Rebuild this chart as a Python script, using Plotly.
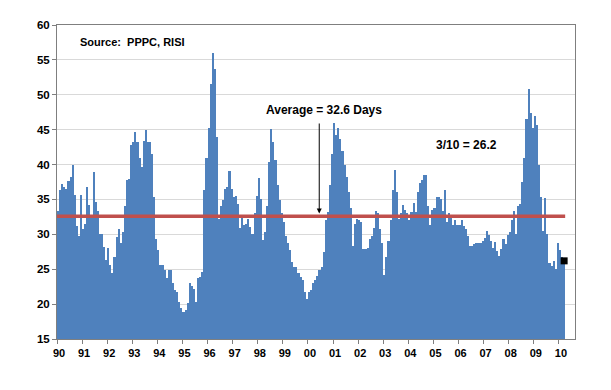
import plotly.graph_objects as go

# ---- data (monthly inventory days, Jan 1990 - Mar 2010) ----
tick_labels = ["90", "91", "92", "93", "94", "95", "96", "97", "98", "99", "00",
               "01", "02", "03", "04", "05", "06", "07", "08", "09", "10"]

v1990 = [33.3, 36.3, 37.2, 36.8, 36.5, 37.6, 38.2, 40.0, 35.6, 31.2, 29.8, 35.6]
v1991 = [30.8, 31.5, 36.8, 34.2, 32.5, 38.9, 34.6, 33.4, 30.1, 30.0, 28.2, 26.3]
v1992 = [28.1, 25.6, 24.5, 26.8, 29.6, 30.8, 28.7, 30.3, 34.0, 37.8, 38.0, 42.8]
v1993 = [43.3, 44.6, 43.2, 41.0, 39.6, 43.4, 45.0, 43.2, 43.2, 41.5, 35.3, 29.4]
v1994 = [27.7, 25.6, 25.6, 24.9, 23.7, 24.9, 24.9, 23.0, 22.0, 21.8, 20.3, 19.5]
v1995 = [18.9, 19.1, 20.2, 23.0, 22.6, 22.2, 20.3, 23.7, 23.9, 24.6, 36.4, 41.0]
v1996 = [45.3, 51.5, 56.0, 53.7, 44.0, 32.2, 34.0, 34.9, 36.5, 36.8, 39.1, 36.5]
v1997 = [35.3, 35.5, 34.4, 30.9, 32.8, 31.3, 31.5, 32.2, 31.0, 30.1, 33.0, 35.5]
v1998 = [38.1, 35.1, 29.2, 30.3, 34.1, 40.3, 45.1, 43.2, 40.6, 37.0, 34.9, 33.0]
v1999 = [31.8, 29.7, 28.7, 27.8, 26.0, 25.3, 25.3, 24.4, 23.9, 23.4, 21.8, 20.8]
v2000 = [21.8, 22.0, 23.0, 23.4, 24.1, 24.9, 25.3, 27.5, 32.0, 33.2, 37.0, 41.5]
v2001 = [45.9, 44.2, 45.3, 43.6, 42.0, 39.9, 38.2, 36.0, 33.8, 28.4, 31.5, 32.2]
v2002 = [32.1, 31.7, 27.9, 27.9, 28.1, 29.3, 29.8, 30.9, 33.4, 33.1, 30.7, 28.8]
v2003 = [24.2, 26.7, 29.1, 32.1, 36.4, 39.2, 36.0, 32.2, 33.1, 34.2, 33.5, 33.1]
v2004 = [32.1, 33.2, 34.5, 33.2, 36.0, 37.3, 37.8, 38.5, 38.5, 34.0, 31.4, 33.5]
v2005 = [33.8, 35.4, 35.4, 35.0, 33.3, 36.4, 31.7, 33.1, 32.4, 31.4, 32.1, 31.4]
v2006 = [31.4, 32.1, 31.2, 30.7, 29.7, 28.3, 28.3, 28.6, 28.7, 28.8, 28.7, 29.1]
v2007 = [29.5, 30.5, 29.9, 29.1, 28.1, 28.9, 27.6, 26.9, 27.9, 29.3, 28.6, 29.9]
v2008 = [30.4, 32.1, 33.4, 30.1, 34.0, 34.3, 37.5, 41.0, 46.5, 50.9, 47.4, 45.3]
v2009 = [47.0, 45.6, 40.0, 35.4, 30.5, 35.2, 30.0, 25.9, 25.5, 26.2, 25.0, 28.7]
v2010 = [27.8, 26.8, 26.2]

average = 32.6
source_text = "Source:  PPPC, RISI"
average_text = "Average = 32.6 Days"
last_text = "3/10 = 26.2"

values = (v1990 + v1991 + v1992 + v1993 + v1994 + v1995 + v1996 + v1997 + v1998 +
          v1999 + v2000 + v2001 + v2002 + v2003 + v2004 + v2005 + v2006 + v2007 +
          v2008 + v2009 + v2010)
n = len(values)
x = [i + 0.5 for i in range(n)]
tick_vals = [12 * i for i in range(len(tick_labels))]

FONT = "Liberation Sans, Arial, sans-serif"

fig = go.Figure()
fig.add_trace(go.Bar(x=x, y=values, width=1.0, marker=dict(color="#4F81BD", line=dict(width=0)),
                     hoverinfo="skip"))
fig.add_trace(go.Scatter(x=[0, n], y=[average, average], mode="lines",
                         line=dict(color="#C0504D", width=3.5), hoverinfo="skip"))
fig.add_trace(go.Scatter(x=[x[-1]], y=[values[-1]], mode="markers",
                         marker=dict(symbol="square", size=7, color="black"),
                         cliponaxis=False, hoverinfo="skip"))

# the page body has an 8px margin, so the figure is sized/offset to compensate
fig.update_layout(
    width=603, height=382,
    margin=dict(l=49, r=36, t=17, b=51),
    paper_bgcolor="white", plot_bgcolor="white",
    showlegend=False, bargap=0,
    font=dict(family=FONT, size=11, color="black"),
    xaxis=dict(range=[0, 247.7], tickmode="array", tickvals=tick_vals, ticktext=tick_labels,
               ticks="outside", ticklen=4, tickcolor="#7F7F7F", showgrid=False, zeroline=False,
               showline=True, linecolor="#7F7F7F", linewidth=1, mirror=True,
               tickfont=dict(family=FONT, size=11, color="black", weight="bold"),
               ticklabelshift=2),
    yaxis=dict(range=[15, 60], tickmode="linear", tick0=15, dtick=5,
               ticks="outside", ticklen=4, tickcolor="#7F7F7F",
               showgrid=True, gridcolor="#D9D9D9", gridwidth=1, zeroline=False,
               showline=True, linecolor="#7F7F7F", linewidth=1, mirror=True,
               tickfont=dict(family=FONT, size=11.5, color="black", weight="bold")),
)

fig.add_annotation(x=10.0, y=57.6, xref="x", yref="y", text=source_text, showarrow=False,
                   xanchor="left", yanchor="middle",
                   font=dict(family=FONT, size=11, color="black", weight="bold"))
fig.add_annotation(x=127.5, y=47.8, xref="x", yref="y", text=average_text, showarrow=False,
                   xanchor="center", yanchor="middle",
                   font=dict(family=FONT, size=12, color="black", weight="bold"))
fig.add_annotation(x=125.4, y=average + 0.4, xref="x", yref="y", ax=125.4, ay=46.1,
                   axref="x", ayref="y", text="", showarrow=True,
                   arrowhead=2, arrowsize=1, arrowwidth=1, arrowcolor="black", standoff=0)
fig.add_annotation(x=196, y=42.8, xref="x", yref="y", text=last_text, showarrow=False,
                   xanchor="center", yanchor="middle",
                   font=dict(family=FONT, size=12, color="black", weight="bold"))

fig.write_html("out.html")
